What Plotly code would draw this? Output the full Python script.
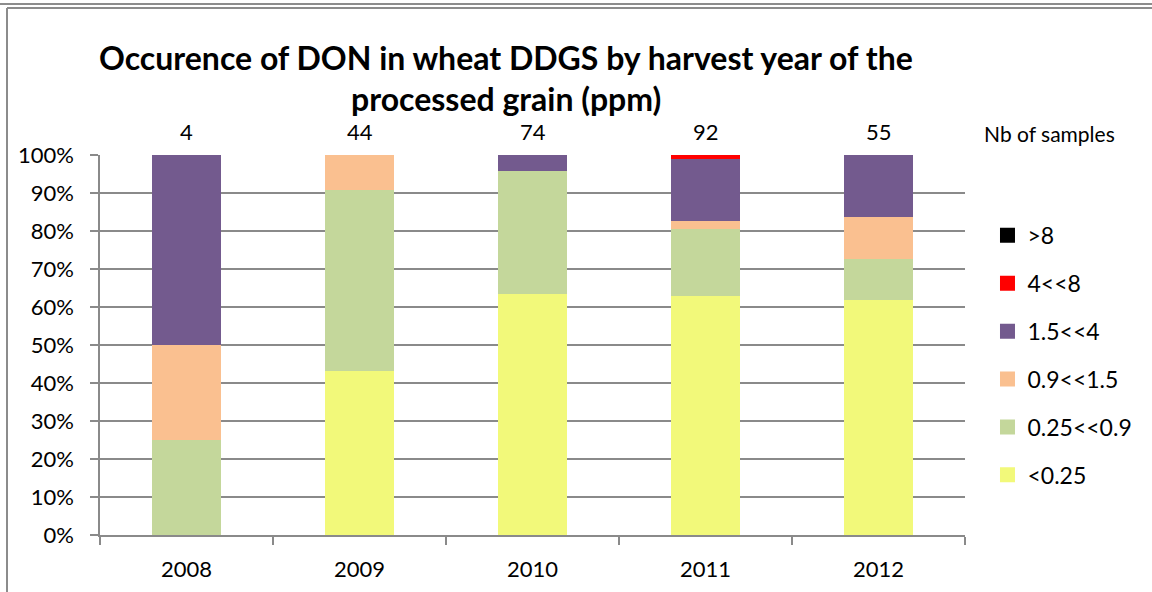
import plotly.graph_objects as go

# harvest years and number of samples per year
years = ['2008', '2009', '2010', '2011', '2012']
n_samples = [4, 44, 74, 92, 55]

# share of samples (%) per DON class, bottom to top of each stack
lt_025 = [0, 43.2, 63.5, 63.0, 61.8]
p025_09 = [25.0, 47.7, 32.4, 17.4, 10.9]
p09_15 = [25.0, 9.1, 0, 2.2, 10.9]
p15_4 = [50.0, 0, 4.1, 16.3, 16.4]
p4_8 = [0, 0, 0, 1.1, 0]
gt_8 = [0, 0, 0, 0, 0]

series = [
    ('<0.25', lt_025, '#F2F97A'),
    ('0.25<<0.9', p025_09, '#C4D79B'),
    ('0.9<<1.5', p09_15, '#FAC090'),
    ('1.5<<4', p15_4, '#735A8E'),
    ('4<<8', p4_8, '#FF0000'),
    ('>8', gt_8, '#000000'),
]

FONT = 'Lato, Open Sans, sans-serif'
GRID = '#8a8a8a'

fig = go.Figure()
for name, vals, col in series:
    fig.add_trace(go.Bar(
        x=years, y=vals, name=name, marker_color=col,
        marker_line_width=0, showlegend=False,
    ))

# legend entries with bigger square swatches, highest class on top
for rank, (name, vals, col) in enumerate(reversed(series)):
    fig.add_trace(go.Scatter(
        x=[None], y=[None], mode='markers', name=name,
        marker=dict(symbol='square', size=15, color=col, line_width=0),
        legendgroup=name, legendrank=rank + 1, hoverinfo='skip',
    ))

# sample counts above the bars (category index positions)
for i, n in enumerate(n_samples):
    fig.add_annotation(x=i, y=100, xref='x', yref='y', text=str(n),
                       showarrow=False, yanchor='bottom', yshift=8,
                       font=dict(size=22, color='black', family=FONT))
fig.add_annotation(x=1.098, y=1, xref='paper', yref='paper', text='Nb of samples',
                   showarrow=False, xanchor='center', yanchor='bottom', yshift=7,
                   font=dict(size=21, color='black', family=FONT))

# px -> paper helpers (plot area spans x 100..965, y 155..535)
px_x = lambda v: (v - 100) / 865
px_y = lambda v: (535 - v) / 380

# title as two lines
fig.add_annotation(x=px_x(506), y=px_y(57), xref='paper', yref='paper',
                   text='<b>Occurence of DON in wheat DDGS by harvest year of the</b>',
                   showarrow=False, xanchor='center', yanchor='middle',
                   font=dict(size=32, color='black', family=FONT))
fig.add_annotation(x=px_x(506), y=px_y(98), xref='paper', yref='paper',
                   text='<b>processed grain (ppm)</b>',
                   showarrow=False, xanchor='center', yanchor='middle',
                   font=dict(size=32, color='black', family=FONT))

fig.update_layout(
    width=1152, height=592,
    margin=dict(l=100, r=187, t=155, b=57),
    barmode='stack', bargap=0.6,
    plot_bgcolor='white', paper_bgcolor='white',
    font=dict(family=FONT, size=22, color='black'),
    showlegend=True,
    legend=dict(
        x=1.026, y=0.845, xanchor='left', yanchor='top',
        traceorder='grouped', tracegroupgap=15,
        font=dict(size=23, color='black', family=FONT),
        bgcolor='rgba(0,0,0,0)',
    ),
    xaxis=dict(
        type='category', range=[-0.5, 4.5], autorange=False,
        showline=True, linecolor=GRID, linewidth=1.5,
        ticks='outside', ticklen=8, tickcolor=GRID, tickwidth=1.5,
        tickson='boundaries', ticklabelstandoff=14,
        tickfont=dict(size=22), showgrid=False, automargin=False,
    ),
    yaxis=dict(
        range=[0, 100], autorange=False, tickmode='array',
        tickvals=[0, 10, 20, 30, 40, 50, 60, 70, 80, 90, 100],
        ticktext=['0%', '10%', '20%', '30%', '40%', '50%', '60%', '70%', '80%', '90%', '100%'],
        showline=True, linecolor=GRID, linewidth=1.5,
        ticks='outside', ticklen=8, tickcolor=GRID, tickwidth=1.5,
        showgrid=True, gridcolor=GRID, gridwidth=1.5, ticklabelstandoff=12,
        tickfont=dict(size=22), zeroline=False, automargin=False,
    ),
)

# outer frame lines (in paper coordinates beyond the plot area)
frame = dict(color='#8c8c8c', width=2)
fig.add_shape(type='line', xref='paper', yref='paper', x0=px_x(0), x1=px_x(1152),
              y0=px_y(4), y1=px_y(4), line=frame)
fig.add_shape(type='line', xref='paper', yref='paper', x0=px_x(7), x1=px_x(1152),
              y0=px_y(8), y1=px_y(8), line=frame)
fig.add_shape(type='line', xref='paper', yref='paper', x0=px_x(7), x1=px_x(7),
              y0=px_y(8), y1=px_y(592), line=frame)

fig.write_html('out.html', config={'displayModeBar': False},
               post_script="document.body.style.margin='0';")
